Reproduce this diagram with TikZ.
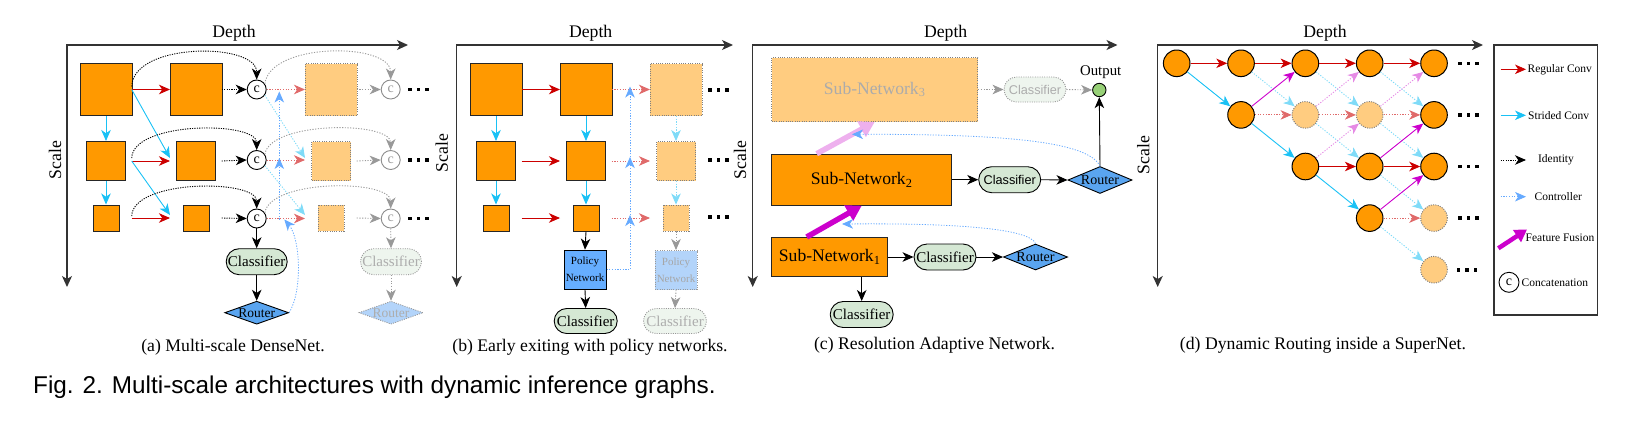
\documentclass[tikz,border=0pt]{standalone}
\usepackage{fontspec}
\setmainfont{Liberation Serif}
\newfontfamily\sansf{Liberation Sans}
\usetikzlibrary{arrows.meta,shapes.geometric,shapes.misc,calc}
\definecolor{org}{HTML}{FF9900}
\definecolor{orgl}{HTML}{FFCC80}
\definecolor{rd}{HTML}{CC0000}
\definecolor{rdl}{HTML}{E06A6A}
\definecolor{cy}{HTML}{19C1F5}
\definecolor{cyl}{HTML}{7FDBF8}
\definecolor{ctl}{HTML}{66AAFF}
\definecolor{mg}{HTML}{CC00CC}
\definecolor{mgl}{HTML}{E58AE5}
\definecolor{mgl2}{HTML}{EEB0EE}
\definecolor{clsc}{HTML}{D5E8D4}
\definecolor{clsl}{HTML}{EEF5EE}
\definecolor{rtc}{HTML}{5AA5F0}
\definecolor{rtl}{HTML}{B3D4FA}
\definecolor{polc}{HTML}{66AEFF}
\definecolor{grn}{HTML}{97D077}
\definecolor{axc}{HTML}{333333}
\tikzset{
  sqs/.style={draw=black!85,line width=1pt,fill=org,minimum size=#1,inner sep=0pt},
  fsq/.style={draw=black!50,dash pattern=on 1pt off 1.3pt,line width=0.9pt,fill=orgl,minimum size=#1,inner sep=0pt},
  ccat/.style={circle,draw=black,line width=0.9pt,fill=white,minimum size=19pt,inner sep=0pt,font=\fontsize{14}{14}\selectfont},
  fccat/.style={ccat,draw=black!45,text=black!40},
  clsf/.style={rounded rectangle,draw=black,line width=0.9pt,fill=clsc,minimum width=63pt,minimum height=26pt,inner sep=1pt,font=\fontsize{15}{15}\selectfont},
  fclsf/.style={clsf,draw=black!40,dash pattern=on 1pt off 1.3pt,fill=clsl,text=black!32},
  sclsf/.style={clsf,font=\sansf\fontsize{12.7}{12.7}\selectfont},
  rtr/.style={diamond,aspect=2.8,draw=black,line width=0.9pt,fill=rtc,minimum width=64pt,minimum height=23pt,inner sep=0pt,font=\fontsize{13.5}{13.5}\selectfont},
  frtr/.style={rtr,draw=black!40,dash pattern=on 1pt off 1.3pt,fill=rtl,text=black!32},
  polbox/.style={rectangle,draw=black,line width=1pt,fill=polc,minimum width=42pt,minimum height=39pt,inner sep=0pt,align=center,font=\fontsize{11}{17}\selectfont},
  fpolbox/.style={polbox,draw=black!40,dash pattern=on 1pt off 1.3pt,fill=rtl,text=black!35},
  snb/.style={rectangle,draw=black!85,line width=1pt,fill=org,inner sep=0pt,font=\fontsize{17.6}{17.6}\selectfont},
  fsnb/.style={snb,draw=black!50,dash pattern=on 1pt off 1.3pt,fill=orgl,text=black!33},
  dn/.style={circle,draw=black,line width=1pt,fill=org,minimum size=26.6pt,inner sep=0pt},
  fdn/.style={dn,draw=black!50,dash pattern=on 1pt off 1.3pt,fill=orgl},
  outc/.style={circle,draw=black,line width=0.9pt,fill=grn,minimum size=13.4pt,inner sep=0pt},
  lab/.style={font=\fontsize{17.7}{17.7}\selectfont,inner sep=0pt},
  lgt/.style={font=\fontsize{11.5}{11.5}\selectfont,inner sep=0pt},
  axln/.style={draw=axc,line width=1.4pt,{Stealth[length=11pt,width=10pt,inset=3pt]}-{Stealth[length=11pt,width=10pt,inset=3pt]}},
  conn/.style={->,line width=0.9pt},
  rarr/.style={conn,draw=rd},
  carr/.style={conn,draw=cy},
  marr/.style={conn,draw=mg},
  karr/.style={conn,draw=black},
  idarr/.style={conn,draw=black,dash pattern=on 1.2pt off 1.2pt},
  farr/.style={conn,dash pattern=on 1.2pt off 1.5pt},
  frarr/.style={farr,draw=rdl},
  fcarr/.style={farr,draw=cyl},
  fmarr/.style={farr,draw=mgl},
  fgarr/.style={farr,draw=black!40},
  ctarr/.style={farr,draw=ctl,line width=0.8pt},
  ffus/.style={draw=mg,line width=5.5pt,-{Triangle[length=15pt,width=17pt]}},
  fffus/.style={ffus,draw=mgl2},
  dotsq/.style={fill=black}
}
\begin{document}
\begin{tikzpicture}[x=1pt,y=-1pt,>={Stealth[length=11pt,width=9.5pt,inset=3.2pt]}]
\useasboundingbox (0,0) rectangle (1647,421);

% ================= axes =================
\foreach \cx/\rx/\dx/\sx/\sy in {67/408/234/55/160, 456.7/733/590.7/441.7/153, 752.7/1117.5/945.7/740/160, 1157.7/1483/1325/1143.3/155}{
  \draw[axln] (\rx,45) -- (\cx,45) -- (\cx,287);
  \node[lab] at (\dx,33) {Depth};
  \node[lab,rotate=90] at (\sx,\sy) {Scale};
}

% ================= panel (a) =================
\node[sqs=52] (a11) at (106,89.5) {};
\node[sqs=52] (a12) at (196,89.5) {};
\node[fsq=52] (a13) at (331,89.5) {};
\node[sqs=39] (a21) at (106,161) {};
\node[sqs=39] (a22) at (196,161) {};
\node[fsq=39] (a23) at (331,161) {};
\node[sqs=26] (a31) at (106,218) {};
\node[sqs=26] (a32) at (196,218) {};
\node[fsq=26] (a33) at (331,218) {};
\node[ccat] (c1) at (256.7,89.5) {c};
\node[ccat] (c2) at (256.7,160) {c};
\node[ccat] (c3) at (256.7,218.5) {c};
\node[fccat] (fc1) at (390.7,89.5) {c};
\node[fccat] (fc2) at (390.7,160) {c};
\node[fccat] (fc3) at (390.7,218.5) {c};
\node[clsf] (acl) at (256.7,261.7) {Classifier};
\node[rtr] (art) at (256.7,312.7) {Router};
\node[fclsf] (afcl) at (391,261.7) {Classifier};
\node[frtr] (afrt) at (391,312.7) {Router};
\coordinate (aR) at (131.7,0);
\coordinate (aL) at (170,0);
\coordinate (aS) at (221.7,0);
\coordinate (aF) at (305,0);
\coordinate (aG) at (356.7,0);
\coordinate (aC) at (279.3,0);
% regular conv
\draw[rarr] (a11 -| aR) -- (a11 -| aL);
\draw[rarr] (a21 -| aR) -- (a21 -| aL);
\draw[rarr] (a31 -| aR) -- (a31 -| aL);
% strided
\draw[carr] (a11.south) -- (a21.north);
\draw[carr] (a21.south) -- (a31.north);
\draw[carr] (a11 -| aR) -- ($(a21 -| aL)+(0,-3)$);
\draw[carr] (a21 -| aR) -- ($(a31 -| aL)+(0,-3)$);
% identity arcs
\draw[idarr] ($(a11 -| aR)+(0,-3)$) .. controls (133,42) and (256.7,42) .. (c1.north);
\draw[idarr] ($(a21 -| aR)+(0,-3)$) .. controls (133,121) and (256.7,121) .. (c2.north);
\draw[idarr] ($(a31 -| aR)+(0,-2)$) .. controls (133,179) and (256.7,179) .. (c3.north);
\draw[idarr] (a12 -| aS) -- (c1.west);
\draw[idarr] (a22 -| aS) -- (c2.west);
\draw[idarr] (a32 -| aS) -- (c3.west);
\draw[karr] (c3.south) -- (acl.north);
\draw[karr] (acl.south) -- (art.north);
% faded
\draw[frarr] (c1.east) -- (c1 -| aF);
\draw[frarr] (c2.east) -- (c2 -| aF);
\draw[frarr] (c3.east) -- (c3 -| aF);
\draw[fcarr] (c1.-35) -- ($(a23 -| aF)+(0,-3)$);
\draw[fcarr] (c2.-35) -- ($(a33 -| aF)+(0,-3)$);
\draw[fgarr] (a13 -| aG) -- (fc1.west);
\draw[fgarr] (a23 -| aG) -- (fc2.west);
\draw[fgarr] (a33 -| aG) -- (fc3.west);
\draw[fgarr] (c1.35) .. controls (270,42) and (390.7,42) .. (fc1.north);
\draw[fgarr] (c2.35) .. controls (270,121) and (390.7,121) .. (fc2.north);
\draw[fgarr] (c3.35) .. controls (270,179) and (390.7,179) .. (fc3.north);
\draw[fgarr] (fc3.south) -- (afcl.north);
\draw[fgarr] (afcl.south) -- (afrt.north);
% controller
\draw[ctarr] (art.east) .. controls (303,290) and (300,238) .. ($(c3 -| aC)+(5,1)$);
\draw[ctarr] ($(c3 -| aC)+(0,1)$) -- ($(c2 -| aC)+(0,-2)$);
\draw[ctarr] ($(c2 -| aC)+(0,-1)$) -- ($(c1 -| aC)+(0,2)$);

% ================= panel (b) =================
\node[sqs=52] (b11) at (496,89.5) {};
\node[sqs=52] (b12) at (586,89.5) {};
\node[fsq=52] (b13) at (676,89.5) {};
\node[sqs=39] (b21) at (496,161) {};
\node[sqs=39] (b22) at (586,161) {};
\node[fsq=39] (b23) at (676,161) {};
\node[sqs=26] (b31) at (496,218) {};
\node[sqs=26] (b32) at (586,218) {};
\node[fsq=26] (b33) at (676,218) {};
\node[polbox] (bp) at (585,269.7) {Policy\\Network};
\node[fpolbox] (bfp) at (676,270) {Policy\\Network};
\node[clsf,minimum width=65pt,minimum height=25pt] (bcl) at (585.7,321) {Classifier};
\node[fclsf,minimum width=65pt,minimum height=25pt] (bfcl) at (675,321) {Classifier};
\coordinate (bR) at (521.7,0);
\coordinate (bL) at (560,0);
\coordinate (bF) at (611.7,0);
\coordinate (bG) at (650,0);
\coordinate (bC) at (630,0);
\draw[rarr] (b11 -| bR) -- (b11 -| bL);
\draw[rarr] (b21 -| bR) -- (b21 -| bL);
\draw[rarr] (b31 -| bR) -- (b31 -| bL);
\draw[carr] (b11.south) -- (b21.north);
\draw[carr] (b21.south) -- (b31.north);
\draw[carr] (b12.south) -- (b22.north);
\draw[carr] (b22.south) -- (b32.north);
\draw[fcarr] (b13.south) -- (b23.north);
\draw[fcarr] (b23.south) -- (b33.north);
\draw[frarr] (b12 -| bF) -- (b12 -| bG);
\draw[frarr] (b22 -| bF) -- (b22 -| bG);
\draw[frarr] (b32 -| bF) -- (b32 -| bG);
\draw[karr] (b32.south) -- (bp.north);
\draw[karr] (bp.south) -- (bcl.north);
\draw[fgarr] (b33.south) -- (bfp.north);
\draw[fgarr] (bfp.south) -- (bfcl.north);
\draw[ctarr] (bp.east) -- (bp -| bC) -- ($(b32 -| bC)+(0,-3)$);
\draw[ctarr] ($(b32 -| bC)+(0,-3)$) -- ($(b22 -| bC)+(0,-4)$);
\draw[ctarr] ($(b22 -| bC)+(0,-4)$) -- ($(b12 -| bC)+(0,-3)$);

% ================= panel (c) =================
\node[fsnb,minimum width=206pt,minimum height=64pt] (sn3) at (874.7,89.5) {Sub-Network\textsubscript{3}};
\node[snb,minimum width=180pt,minimum height=51pt] (sn2) at (861.7,179.7) {Sub-Network\textsubscript{2}};
\node[snb,minimum width=116pt,minimum height=39pt] (sn1) at (829.7,257) {Sub-Network\textsubscript{1}};
\node[sclsf,minimum width=64pt] (cc2) at (1009.7,179.7) {Classifier};
\node[sclsf,fclsf,font=\sansf\fontsize{12.7}{12.7}\selectfont,minimum width=64pt,minimum height=25pt] (cfc) at (1035,89.5) {Classifier};
\node[clsf,minimum width=64pt] (cc1) at (945,257) {Classifier};
\node[clsf,minimum width=65pt] (cc0) at (861.7,314.5) {Classifier};
\node[rtr,minimum width=63pt,minimum height=26pt,font=\fontsize{14}{14}\selectfont] (r1) at (1035.5,257) {Router};
\node[rtr,minimum width=64pt,minimum height=27pt,font=\fontsize{14}{14}\selectfont] (r2) at (1100,180) {Router};
\node[outc] (out) at (1099.3,90) {};
\node[font=\fontsize{14.8}{14.8}\selectfont,inner sep=0pt] (outl) at (1100.7,71.7) {Output};
\draw[fgarr] (sn3.east) -- (cfc.west);
\draw[fgarr] (cfc.east) -- (out.west);
\draw[karr] (sn2.east) -- (cc2.west);
\draw[karr] (cc2.east) -- (r2.west);
\draw[karr] (r2.north) -- (out.south);
\draw[karr] (sn1.east) -- (cc1.west);
\draw[karr] (cc1.east) -- (r1.west);
\draw[karr] (sn1.south -| cc0) -- (cc0.north);
\draw[fffus] ($(sn2.north)+(-45,0)$) -- (sn3.south);
\draw[ffus] ($(sn1.north)+(-23,0)$) -- (sn2.south);
\draw[ctarr] (r1.north) .. controls (1030,229) and (960,223) .. (842,224);
\draw[ctarr] (r2.north) .. controls (1088,142) and (1010,134) .. (852,134.3);

% ================= panel (d) =================
\foreach \r/\c/\s in {0/0/dn,0/1/dn,0/2/dn,0/3/dn,0/4/dn,1/1/dn,1/2/fdn,1/3/fdn,1/4/dn,2/2/dn,2/3/dn,2/4/dn,3/3/dn,3/4/fdn,4/4/fdn}{
  \node[\s] (d\r\c) at ({1176.7+64.33*\c},{63.3+51.6*\r}) {};
}
\foreach \a/\b in {00/01,01/02,02/03,03/04,22/23,23/24}{\draw[rarr] (d\a) -- (d\b);}
\foreach \a/\b in {11/12,12/13,13/14,33/34}{\draw[frarr] (d\a) -- (d\b);}
\foreach \a/\b in {00/11,11/22,22/33}{\draw[carr] (d\a) -- (d\b);}
\foreach \a/\b in {01/12,02/13,03/14,12/23,13/24,23/34,33/44}{\draw[fcarr] (d\a) -- (d\b);}
\foreach \a/\b in {11/02,23/14,33/24}{\draw[marr] (d\a) -- (d\b);}
\foreach \a/\b in {12/03,13/04,22/13}{\draw[fmarr] (d\a) -- (d\b);}

% ================= dots =================
\foreach \x/\y in {410/89.5,410/160,410/218.5,710/90,710/160,710/217,1460/63.3,1460/114.9,1460/166.5,1460/218.1,1458.5/269.7}{
  \foreach \k in {0,8.5,17}{\fill[dotsq] (\x+\k-1.8,\y-1.8) rectangle ++(3.6,3.6);}
}

% ================= legend =================
\draw[line width=1.1pt,draw=axc] (1494,45) rectangle (1597.3,315);
\coordinate (l1a) at (1500.7,69.3); \coordinate (l1b) at (1526,69.3);
\draw[rarr] (l1a) -- (l1b);
\node[lgt,anchor=west] at (1527.5,69.3) {Regular Conv};
\coordinate (l2a) at (1500.7,115.3); \coordinate (l2b) at (1526,115.3);
\draw[carr] (l2a) -- (l2b);
\node[lgt,anchor=west] at (1528,115.3) {Strided Conv};
\coordinate (l3a) at (1500.7,160); \coordinate (l3b) at (1526,160);
\draw[idarr] (l3a) -- (l3b);
\node[lgt] at (1556,160) {Identity};
\coordinate (l4a) at (1500.7,196.7); \coordinate (l4b) at (1526,196.7);
\draw[ctarr] (l4a) -- (l4b);
\node[lgt] at (1558.3,196.7) {Controller};
\coordinate (l5a) at (1498.3,248.3); \coordinate (l5b) at (1527,229.5);
\draw[draw=mg,line width=4.5pt,-{Triangle[length=12pt,width=14pt]}] (l5a) -- (l5b);
\node[lgt,anchor=west] at (1525.5,237.3) {Feature Fusion};
\node[ccat,minimum size=20pt] (l6) at (1509,282.3) {c};
\node[lgt,anchor=west] at (1521.5,282.3) {Concatenation};

% ================= captions =================
\node[lab,anchor=base] at (233,351) {(a) Multi-scale DenseNet.};
\node[lab,anchor=base] at (590,351) {(b) Early exiting with policy networks.};
\node[lab,anchor=base] at (934.5,349) {(c) Resolution Adaptive Network.};
\node[lab,anchor=base] at (1323,349) {(d) Dynamic Routing inside a SuperNet.};
\node[inner sep=0pt,anchor=base west,font=\sansf\fontsize{24.3}{24.3}\selectfont] at (33,393) {Fig. 2. Multi-scale architectures with dynamic inference graphs.};
\end{tikzpicture}
\end{document}
